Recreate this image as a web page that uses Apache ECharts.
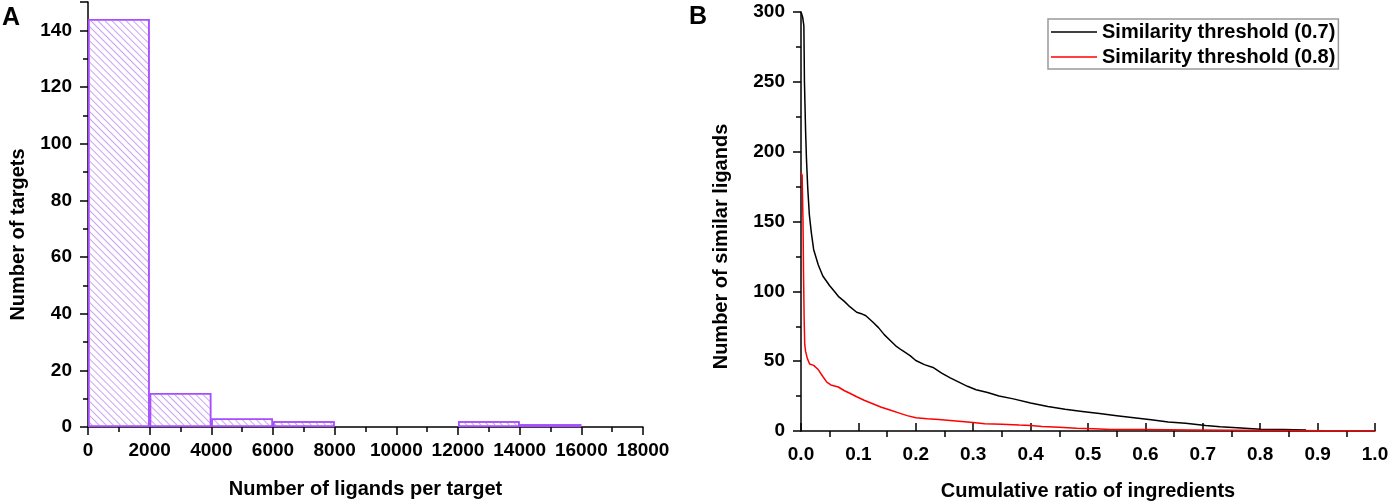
<!DOCTYPE html>
<html>
<head>
    <meta charset="UTF-8">
    <title>ECharts</title>
    <script type="text/javascript" src="https://cdn.jsdelivr.net/npm/echarts@6/dist/echarts.min.js"></script>
    <style>
        html, body { margin: 0; padding: 0; background: #fff; }
    </style>
</head>
<body>
<div id="main" style="width: 1391px;height:501px;"></div>
<script type="text/javascript">
    // A: histogram bins (start of each 2000-wide bin) and counts
    var binStarts = [0, 2000, 4000, 6000, 8000, 10000, 12000, 14000, 16000];
    var binCounts = [144, 12, 3, 2, 0, 0, 2, 1, 0];

    // B: similarity threshold 0.7 curve
    var ratio07 = [0, 0.003, 0.005, 0.006, 0.008, 0.0095, 0.0116, 0.0145, 0.018, 0.022, 0.03, 0.038,
        0.05, 0.058, 0.066, 0.075, 0.085, 0.097, 0.105, 0.113, 0.125, 0.135, 0.145, 0.155, 0.165,
        0.175, 0.19, 0.2, 0.215, 0.23, 0.245, 0.26, 0.275, 0.29, 0.305, 0.325, 0.345, 0.37, 0.4,
        0.43, 0.46, 0.49, 0.52, 0.55, 0.58, 0.61, 0.64, 0.67, 0.705, 0.73, 0.76, 0.8, 0.84, 0.88];
    var count07 = [300, 296, 290, 250, 215, 195, 175, 155, 142, 130, 119, 111,
        104, 100, 96, 93, 89, 85, 84, 82.5, 78, 74, 69, 65, 61,
        58, 54, 50.5, 47.5, 45.5, 41.5, 38, 35, 32, 29.5, 27.5, 25, 23, 20,
        17.5, 15.5, 14, 12.5, 11, 9.5, 8, 6.5, 5.5, 4, 3, 2.4, 1.3, 1, 0.7];

    // B: similarity threshold 0.8 curve
    var ratio08 = [0, 0.002, 0.0035, 0.0045, 0.0055, 0.0065, 0.008, 0.011, 0.015, 0.022, 0.03, 0.038,
        0.045, 0.052, 0.065, 0.075, 0.085, 0.097, 0.11, 0.125, 0.14, 0.155, 0.17, 0.185, 0.2,
        0.22, 0.24, 0.26, 0.28, 0.3, 0.32, 0.35, 0.38, 0.4, 0.42, 0.45, 0.48, 0.51, 0.54, 0.6,
        0.68, 0.682, 1.0];
    var count08 = [185, 183, 150, 110, 80, 62, 57, 52, 48, 47, 44, 39,
        35, 33, 31.5, 29, 27, 24.5, 22, 19.5, 17, 15, 13, 11, 9.5,
        8.8, 8.2, 7.5, 6.8, 6, 5.2, 4.8, 4.3, 4, 3.2, 2.6, 2, 1.6, 1.1, 1,
        0.8, 0, 0];

    var myChart = echarts.init(document.getElementById('main'));

    var fontFam = '"Liberation Sans", Arial, sans-serif';
    var tickLabel = { color: '#000', fontSize: 19, fontWeight: 'bold', fontFamily: fontFam };
    var titleStyle = { color: '#000', fontSize: 20, fontWeight: 'bold', fontFamily: fontFam };
    var axLine = { show: true, lineStyle: { color: '#000', width: 1.5 } };
    var tickLine = { color: '#000', width: 1.5 };

    function zip(xs, ys) {
        var out = [];
        for (var i = 0; i < xs.length; i++) out.push([xs[i], ys[i]]);
        return out;
    }

    var option = {
        animation: false,
        grid: [
            { left: 88, top: 2, width: 555, bottom: 74, outerBoundsMode: 'none' },
            { left: 801, top: 12, width: 574, bottom: 70, outerBoundsMode: 'none' }
        ],
        graphic: [
            { type: 'text', left: 2, top: 6, style: { text: 'A', font: 'bold 25px ' + fontFam, fill: '#000' } },
            { type: 'text', left: 689, top: 5, style: { text: 'B', font: 'bold 25px ' + fontFam, fill: '#000' } }
        ],
        legend: {
            orient: 'vertical',
            left: 1048,
            top: 19,
            padding: [3, 3, 2, 3],
            icon: 'rect',
            itemWidth: 46,
            itemHeight: 1.5,
            itemGap: 5,
            borderColor: '#999',
            borderWidth: 1.5,
            textStyle: { color: '#000', fontSize: 20, fontWeight: 'bold', fontFamily: fontFam, lineHeight: 20 },
            data: ['Similarity threshold (0.7)', 'Similarity threshold (0.8)']
        },
        xAxis: [
            {
                type: 'value', gridIndex: 0, min: 0, max: 18000, interval: 2000,
                name: 'Number of ligands per target', nameLocation: 'middle', nameGap: 52,
                nameTextStyle: titleStyle,
                axisLine: axLine,
                axisTick: { length: 8, lineStyle: tickLine },
                minorTick: { show: true, splitNumber: 2, length: 5, lineStyle: tickLine },
                axisLabel: Object.assign({ margin: 14, formatter: function (v) { return String(v); } }, tickLabel),
                splitLine: { show: false }
            },
            {
                type: 'category', gridIndex: 0, show: false, boundaryGap: true,
                data: binStarts.map(function (v) { return String(v); })
            },
            {
                type: 'value', gridIndex: 1, min: 0, max: 1, interval: 0.1,
                name: 'Cumulative ratio of ingredients', nameLocation: 'middle', nameGap: 50,
                nameTextStyle: titleStyle,
                axisLine: axLine,
                axisTick: { inside: true, length: 8, lineStyle: tickLine },
                minorTick: { show: false },
                axisLabel: Object.assign({ margin: 14, formatter: function (v) { return v.toFixed(1); } }, tickLabel),
                splitLine: { show: false }
            },
            {
                type: 'value', gridIndex: 1, position: 'bottom', min: 0, max: 1, interval: 0.1,
                axisLine: { show: false },
                axisTick: { show: false },
                axisLabel: { show: false },
                minorTick: { show: true, splitNumber: 2, length: 6, lineStyle: tickLine },
                splitLine: { show: false }
            }
        ],
        yAxis: [
            {
                type: 'value', gridIndex: 0, min: 0, max: 150, interval: 20,
                name: 'Number of targets', nameLocation: 'middle', nameGap: 60,
                nameTextStyle: Object.assign({ padding: [0, 40, 0, 0] }, titleStyle),
                axisLine: axLine,
                axisTick: { length: 8, lineStyle: tickLine },
                minorTick: { show: true, splitNumber: 2, length: 5, lineStyle: tickLine },
                axisLabel: Object.assign({
                    margin: 16,
                    formatter: function (v) { return v % 20 === 0 ? v : ''; }
                }, tickLabel),
                splitLine: { show: false }
            },
            {
                type: 'value', gridIndex: 1, min: 0, max: 300, interval: 50,
                name: 'Number of similar ligands', nameLocation: 'middle', nameGap: 70,
                nameTextStyle: Object.assign({ padding: [0, 50, 0, 0] }, titleStyle),
                axisLine: axLine,
                axisTick: { length: 8, lineStyle: tickLine },
                minorTick: { show: true, splitNumber: 2, length: 5, lineStyle: tickLine },
                axisLabel: Object.assign({ margin: 16 }, tickLabel),
                splitLine: { show: false }
            }
        ],
        series: [
            {
                name: 'targets',
                type: 'bar',
                xAxisIndex: 1,
                yAxisIndex: 0,
                barCategoryGap: '0%',
                // empty bins are left undrawn, as in the figure
                data: binCounts.map(function (c) { return c === 0 ? '-' : c; }),
                itemStyle: {
                    color: '#fff',
                    borderColor: '#a64dff',
                    borderWidth: 1.5,
                    decal: {
                        symbol: 'rect',
                        symbolSize: 1,
                        dashArrayX: [1, 0],
                        dashArrayY: [1, 3.4],
                        rotation: Math.PI / 4,
                        color: '#c9a3f5'
                    }
                },
                z: 1
            },
            {
                name: 'Similarity threshold (0.7)',
                type: 'line',
                xAxisIndex: 2,
                yAxisIndex: 1,
                symbol: 'none',
                data: zip(ratio07, count07),
                lineStyle: { color: '#000', width: 1.5 },
                itemStyle: { color: '#000' }
            },
            {
                name: 'Similarity threshold (0.8)',
                type: 'line',
                xAxisIndex: 2,
                yAxisIndex: 1,
                symbol: 'none',
                data: zip(ratio08, count08),
                lineStyle: { color: '#ff0000', width: 1.5 },
                itemStyle: { color: '#ff0000' }
            }
        ]
    };

    myChart.setOption(option);
</script>
</body>
</html>
